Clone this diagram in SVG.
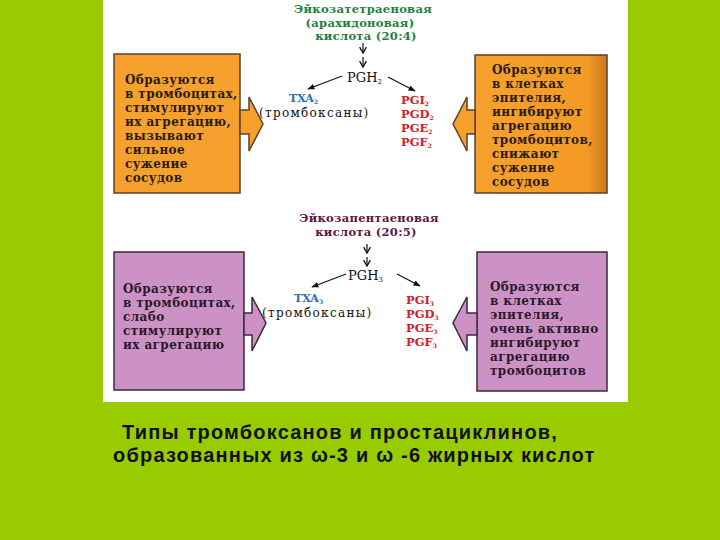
<svg xmlns="http://www.w3.org/2000/svg" width="720" height="540" viewBox="0 0 720 540">
<defs>
<style>
.t{font-family:"DejaVu Serif","Liberation Serif",serif;font-weight:bold;font-size:12px;letter-spacing:0.4px;fill:#2a1c12}
.tp{fill:#2a1a2a}
.ttl{font-family:"DejaVu Serif","Liberation Serif",serif;font-weight:bold;font-size:11.5px;letter-spacing:0.3px;text-anchor:middle}
.pg{font-family:"DejaVu Serif","Liberation Serif",serif;font-size:13px;fill:#111}
.txa{font-family:"DejaVu Serif","Liberation Serif",serif;font-weight:bold;font-size:11px;fill:#2b6cb8}
.red{font-family:"DejaVu Serif","Liberation Serif",serif;font-weight:bold;font-size:11.5px;fill:#d0202a}
.tb{font-family:"DejaVu Serif","Liberation Serif",serif;font-size:12px;letter-spacing:1.3px;fill:#111}
.cap{font-family:"Liberation Sans",Arial,sans-serif;font-weight:bold;font-size:20px;letter-spacing:1.2px;fill:#111}
.or{fill:#f6a12e;stroke:#5a4030;stroke-width:1.5}
.pu{fill:#cc92c6;stroke:#3a2a3a;stroke-width:1.5}
.ln{stroke:#111;stroke-width:1.2;fill:none}
</style>
<linearGradient id="orR" x1="0" y1="0" x2="1" y2="0">
<stop offset="0" stop-color="#f6a12e"/><stop offset="0.85" stop-color="#f39a24"/><stop offset="1" stop-color="#c9771c"/>
</linearGradient>
<marker id="ah" viewBox="0 0 10 10" refX="9" refY="5" markerWidth="6" markerHeight="6" orient="auto">
<path d="M0,1 L10,5 L0,9 Z" fill="#111"/>
</marker>
<marker id="dv" viewBox="0 0 10 10" refX="9" refY="5" markerWidth="7" markerHeight="7" orient="auto">
<path d="M2,1 L9,5 L2,9" fill="none" stroke="#111" stroke-width="1.6"/>
</marker>
</defs>
<rect width="720" height="540" fill="#99cc00"/>
<rect x="103" y="0" width="525" height="402" fill="#ffffff"/>

<g id="box-top-left">
<rect class="or" x="114" y="54" width="126" height="139"/>
<polygon class="or" points="240,110 249,110 249,97 263,124 249,151 249,134 240,134"/>
<text class="t"><tspan x="125" y="84">Образуются</tspan><tspan x="125" y="98">в тромбоцитах,</tspan><tspan x="125" y="112">стимулируют</tspan><tspan x="125" y="126">их агрегацию,</tspan><tspan x="125" y="140">вызывают</tspan><tspan x="125" y="154">сильное</tspan><tspan x="125" y="168">сужение</tspan><tspan x="125" y="182">сосудов</tspan></text>
</g>

<g id="box-top-right">
<rect x="475" y="55" width="132" height="138" fill="url(#orR)" stroke="#5a4030" stroke-width="1.5"/>
<polygon class="or" points="475,110 467,110 467,97 453,124 467,151 467,134 475,134"/>
<text class="t"><tspan x="492" y="74">Образуются</tspan><tspan x="492" y="88">в клетках</tspan><tspan x="492" y="102">эпителия,</tspan><tspan x="492" y="116">ингибируют</tspan><tspan x="492" y="130">агрегацию</tspan><tspan x="492" y="144">тромбоцитов,</tspan><tspan x="492" y="158">снижают</tspan><tspan x="492" y="172">сужение</tspan><tspan x="492" y="186">сосудов</tspan></text>
</g>

<g id="box-bottom-left">
<rect class="pu" x="114" y="252" width="130" height="138"/>
<polygon class="pu" points="244,313 252,313 252,297 266,323 252,351 252,335 244,335"/>
<text class="t tp"><tspan x="123" y="293">Образуются</tspan><tspan x="123" y="307">в тромбоцитах,</tspan><tspan x="123" y="321">слабо</tspan><tspan x="123" y="335">стимулируют</tspan><tspan x="123" y="349">их агрегацию</tspan></text>
</g>

<g id="box-bottom-right">
<rect class="pu" x="477" y="252" width="130" height="139"/>
<polygon class="pu" points="477,313 467,313 467,297 453,323 467,351 467,335 477,335"/>
<text class="t tp"><tspan x="490" y="291">Образуются</tspan><tspan x="490" y="305">в клетках</tspan><tspan x="490" y="319">эпителия,</tspan><tspan x="490" y="333">очень активно</tspan><tspan x="490" y="347">ингибируют</tspan><tspan x="490" y="361">агрегацию</tspan><tspan x="490" y="375">тромбоцитов</tspan></text>
</g>

<g id="acid-top">
<text class="ttl" fill="#1f7f3f"><tspan x="363" y="13">Эйкозатетраеновая</tspan><tspan x="360" y="26.5">(арахидоновая)</tspan><tspan x="366" y="40">кислота (20:4)</tspan></text>
</g>
<g id="pgh2"><text class="pg" x="347" y="82">PGH<tspan font-size="7" dy="2">2</tspan></text></g>
<g id="txa2"><text class="txa" x="289" y="102">TXA<tspan font-size="6" dy="1.5">2</tspan></text><text class="tb" x="259" y="117">(тромбоксаны)</text></g>
<g id="pg2"><text class="red"><tspan x="401" y="104">PGI<tspan font-size="6" dy="1.5">2</tspan></tspan><tspan x="401" y="118">PGD<tspan font-size="6" dy="1.5">2</tspan></tspan><tspan x="401" y="132">PGE<tspan font-size="6" dy="1.5">2</tspan></tspan><tspan x="401" y="146">PGF<tspan font-size="6" dy="1.5">2</tspan></tspan></text></g>

<g id="acid-bottom">
<text class="ttl" fill="#5a1848"><tspan x="369" y="222">Эйкозапентаеновая</tspan><tspan x="366" y="236">кислота (20:5)</tspan></text>
</g>
<g id="pgh3"><text class="pg" x="348" y="280">PGH<tspan font-size="7" dy="2">3</tspan></text></g>
<g id="txa3"><text class="txa" x="294" y="302">TXA<tspan font-size="6" dy="1.5">3</tspan></text><text class="tb" x="262" y="317">(тромбоксаны)</text></g>
<g id="pg3"><text class="red"><tspan x="406" y="304">PGI<tspan font-size="6" dy="1.5">3</tspan></tspan><tspan x="406" y="318">PGD<tspan font-size="6" dy="1.5">3</tspan></tspan><tspan x="406" y="332">PGE<tspan font-size="6" dy="1.5">3</tspan></tspan><tspan x="406" y="346">PGF<tspan font-size="6" dy="1.5">3</tspan></tspan></text></g>

<g id="connectors">
<line class="ln" x1="363" y1="43" x2="363" y2="53" marker-end="url(#dv)"/>
<line class="ln" x1="363" y1="57" x2="363" y2="67" marker-end="url(#dv)"/>
<line class="ln" x1="342" y1="76" x2="308" y2="89" marker-end="url(#ah)"/>
<line class="ln" x1="388" y1="77" x2="415" y2="91" marker-end="url(#ah)"/>
<line class="ln" x1="367" y1="244" x2="367" y2="253" marker-end="url(#dv)"/>
<line class="ln" x1="367" y1="257" x2="367" y2="266" marker-end="url(#dv)"/>
<line class="ln" x1="346" y1="274" x2="312" y2="287" marker-end="url(#ah)"/>
<line class="ln" x1="397" y1="274" x2="420" y2="286" marker-end="url(#ah)"/>
</g>

<g id="caption">
<text class="cap" x="122" y="439">Типы тромбоксанов и простациклинов,</text>
<text class="cap" x="113" y="462">образованных из ω-3 и ω -6 жирных кислот</text>
</g>
</svg>
